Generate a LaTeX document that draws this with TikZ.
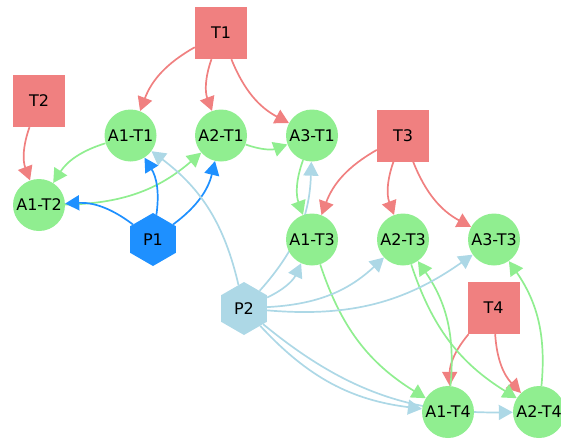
\documentclass[tikz,border=0pt]{standalone}
\usepackage{fontspec}
\setmainfont{DejaVu Sans}
\usetikzlibrary{arrows.meta,shapes.geometric,backgrounds}
\definecolor{lc}{RGB}{240,128,128}
\definecolor{lg}{RGB}{144,238,144}
\definecolor{db}{RGB}{30,144,255}
\definecolor{lb}{RGB}{173,216,230}
\tikzset{
  x=1pt,y=1pt,
  lbl/.style={font=\fontsize{16}{19}\selectfont, text=black},
  tnode/.style={lbl, rectangle, fill=lc, minimum size=52pt, inner sep=0pt},
  anode/.style={lbl, circle, fill=lg, minimum size=52pt, inner sep=0pt},
  pnode/.style={lbl, regular polygon, regular polygon sides=6, shape border rotate=30, minimum size=53pt, inner sep=0pt},
  edgebase/.style={line width=1.7pt, -{Triangle[length=14pt,width=15pt]}, bend right=20},
  redE/.style={edgebase, draw=lc},
  grnE/.style={edgebase, draw=lg},
  dbE/.style={edgebase, draw=db},
  lbE/.style={edgebase, draw=lb},
}
\begin{document}
\begin{tikzpicture}
\useasboundingbox (0,0) rectangle (561,-439);
% nodes
\node[tnode] (T1) at (221,-33) {T1};
\node[tnode] (T2) at (39,-101) {T2};
\node[tnode] (T3) at (403,-135.5) {T3};
\node[tnode] (T4) at (493.5,-308) {T4};
\node[anode] (A1T1) at (130.5,-135.5) {A1-T1};
\node[anode] (A2T1) at (221,-135.5) {A2-T1};
\node[anode] (A3T1) at (312,-135.5) {A3-T1};
\node[anode] (A1T2) at (39,-205) {A1-T2};
\node[anode] (A1T3) at (312,-239.5) {A1-T3};
\node[anode] (A2T3) at (403,-239.5) {A2-T3};
\node[anode] (A3T3) at (494,-239.5) {A3-T3};
\node[anode] (A1T4) at (448,-412) {A1-T4};
\node[anode] (A2T4) at (539,-412) {A2-T4};
\node[pnode, fill=db] (P1) at (153,-239.5) {P1};
\node[pnode, fill=lb] (P2) at (244,-308.5) {P2};
% edges (drawn behind nodes)
\begin{pgfonlayer}{background}
\draw[redE] (T1) to (A1T1);
\draw[redE] (T1) to (A2T1);
\draw[redE] (T1) to (A3T1);
\draw[redE] (T2) to (A1T2);
\draw[redE] (T3) to (A1T3);
\draw[redE] (T3) to (A2T3);
\draw[redE] (T3) to (A3T3);
\draw[redE] (T4) to (A1T4);
\draw[redE] (T4) to (A2T4);
\draw[grnE] (A1T1) to (A1T2);
\draw[grnE] (A1T2) to (A2T1);
\draw[grnE] (A2T1) to (A3T1);
\draw[grnE] (A3T1) to (A1T3);
\draw[grnE] (A1T3) to (A1T4);
\draw[grnE] (A2T3) to (A2T4);
\draw[grnE] (A1T4) to (A2T3);
\draw[grnE] (A2T4) to (A3T3);
\draw[dbE] (P1) to (A1T2);
\draw[dbE] (P1) to (A1T1);
\draw[dbE] (P1) to (A2T1);
\draw[lbE] (P2) to (A1T1);
\draw[lbE] (P2) to (A3T1);
\draw[lbE] (P2) to (A1T3);
\draw[lbE] (P2) to (A2T3);
\draw[lbE] (P2) to (A3T3);
\draw[lbE] (P2) to (A1T4);
\draw[lbE] (P2) to (A2T4);
\end{pgfonlayer}
\end{tikzpicture}
\end{document}
